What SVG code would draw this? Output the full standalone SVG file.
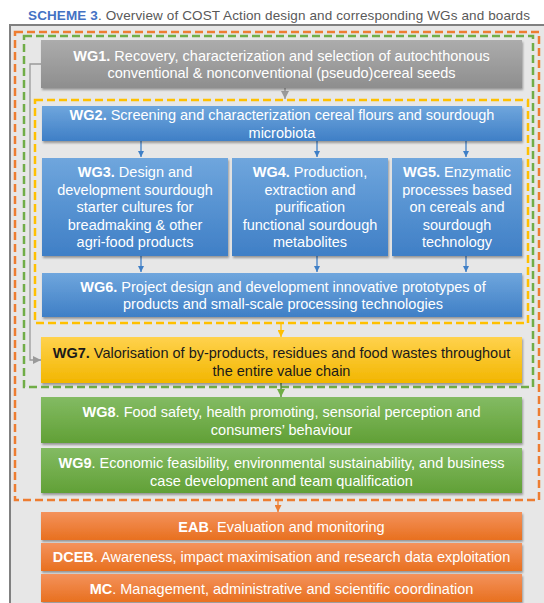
<svg xmlns="http://www.w3.org/2000/svg" width="544" height="603" viewBox="0 0 544 603">
<defs>
<style>
.t{font-family:"Liberation Sans",Arial,sans-serif;font-size:14.5px;fill:#ffffff;text-anchor:middle}
.k{fill:#1a1a1a}
.b{font-weight:bold}
.dash{fill:none;stroke-width:2.5;stroke-dasharray:8 4}
.c{fill:none;stroke-width:1.3}
</style>
<linearGradient id="gGray" x1="0" y1="0" x2="0" y2="1"><stop offset="0" stop-color="#acacac"/><stop offset="1" stop-color="#8e8e8e"/></linearGradient>
<linearGradient id="gBlue" x1="0" y1="0" x2="0" y2="1"><stop offset="0" stop-color="#6fa6dd"/><stop offset="1" stop-color="#3f7fc6"/></linearGradient>
<linearGradient id="gGold" x1="0" y1="0" x2="0" y2="1"><stop offset="0" stop-color="#ffd24d"/><stop offset="1" stop-color="#f2b600"/></linearGradient>
<linearGradient id="gGreen" x1="0" y1="0" x2="0" y2="1"><stop offset="0" stop-color="#83bb63"/><stop offset="1" stop-color="#61a036"/></linearGradient>
<linearGradient id="gOrange" x1="0" y1="0" x2="0" y2="1"><stop offset="0" stop-color="#f4925c"/><stop offset="1" stop-color="#e8701f"/></linearGradient>
<filter id="sh" x="-5%" y="-20%" width="110%" height="150%"><feDropShadow dx="1" dy="2" stdDeviation="1.3" flood-color="#000" flood-opacity="0.35"/></filter>
<marker id="aBlue" viewBox="0 0 10 10" refX="10" refY="5" markerWidth="6" markerHeight="6" orient="auto" markerUnits="userSpaceOnUse"><path d="M0,0 L10,5 L0,10 z" fill="#3f7fc6"/></marker>
<marker id="aGray" viewBox="0 0 10 10" refX="10" refY="5" markerWidth="8" markerHeight="8" orient="auto" markerUnits="userSpaceOnUse"><path d="M0,0 L10,5 L0,10 z" fill="#9a9a9a"/></marker>
<marker id="aGold" viewBox="0 0 10 10" refX="10" refY="5" markerWidth="7" markerHeight="7" orient="auto" markerUnits="userSpaceOnUse"><path d="M0,0 L10,5 L0,10 z" fill="#ffc000"/></marker>
<marker id="aGreen" viewBox="0 0 10 10" refX="10" refY="5" markerWidth="8" markerHeight="8" orient="auto" markerUnits="userSpaceOnUse"><path d="M0,0 L10,5 L0,10 z" fill="#70ad47"/></marker>
<marker id="aOrange" viewBox="0 0 10 10" refX="10" refY="5" markerWidth="7" markerHeight="7" orient="auto" markerUnits="userSpaceOnUse"><path d="M0,0 L10,5 L0,10 z" fill="#ed7d31"/></marker>
</defs>
<rect width="544" height="603" fill="#ffffff"/>
<text x="28" y="20" font-family="Liberation Sans, Arial, sans-serif" font-size="13.5" fill="#595959" textLength="502" lengthAdjust="spacing"><tspan font-weight="bold" fill="#4472c4">SCHEME 3</tspan>. Overview of COST Action design and corresponding WGs and boards</text>
<rect id="frame" x="10" y="25" width="560" height="600" fill="#e7e7e7" stroke="#808080" stroke-width="2"/>
<g id="groups">
<rect x="15" y="32" width="524" height="468" class="dash" stroke="#ed7d31"/>
<rect x="24" y="36" width="509" height="351" class="dash" stroke="#70ad47"/>
<rect x="35" y="100" width="493" height="223" class="dash" stroke="#ffc000"/>
</g>
<g id="connectors">
<path class="c" stroke="#9a9a9a" d="M41,64 H30 V360 H41" marker-end="url(#aGray)"/>
<path class="c" stroke="#9a9a9a" d="M285,88 V99" marker-end="url(#aGray)"/>
<path class="c" stroke="#3f7fc6" d="M141,141 V157" marker-end="url(#aBlue)"/>
<path class="c" stroke="#3f7fc6" d="M317,141 V157" marker-end="url(#aBlue)"/>
<path class="c" stroke="#3f7fc6" d="M466,141 V157" marker-end="url(#aBlue)"/>
<path class="c" stroke="#3f7fc6" d="M141,256 V272" marker-end="url(#aBlue)"/>
<path class="c" stroke="#3f7fc6" d="M317,256 V272" marker-end="url(#aBlue)"/>
<path class="c" stroke="#3f7fc6" d="M466,256 V272" marker-end="url(#aBlue)"/>
<path class="c" stroke="#ffc000" d="M281,324 V337" marker-end="url(#aGold)"/>
<path class="c" stroke="#4f7f36" d="M281,383 V397" marker-end="url(#aGreen)"/>
<path class="c" stroke="#ed7d31" d="M278,500 V512" marker-end="url(#aOrange)"/>
</g>
<g id="wg1"><rect x="41" y="40" width="481" height="48" fill="url(#gGray)" filter="url(#sh)"/>
<text class="t"><tspan x="281.5" y="61"><tspan class="b">WG1.</tspan> Recovery, characterization and selection of autochthonous</tspan><tspan x="281.5" y="78">conventional &amp; nonconventional (pseudo)cereal seeds</tspan></text></g>
<g id="wg2"><rect x="42" y="106" width="480" height="35" fill="url(#gBlue)" filter="url(#sh)"/>
<text class="t"><tspan x="282" y="120"><tspan class="b">WG2.</tspan> Screening and characterization cereal flours and sourdough</tspan><tspan x="282" y="138">microbiota</tspan></text></g>
<g id="wg3"><rect x="42" y="158" width="186" height="98" fill="url(#gBlue)" filter="url(#sh)"/>
<text class="t"><tspan x="135" y="177"><tspan class="b">WG3.</tspan> Design and</tspan><tspan x="135" y="195">development sourdough</tspan><tspan x="135" y="212">starter cultures for</tspan><tspan x="135" y="230">breadmaking &amp; other</tspan><tspan x="135" y="247">agri-food products</tspan></text></g>
<g id="wg4"><rect x="232" y="158" width="156" height="98" fill="url(#gBlue)" filter="url(#sh)"/>
<text class="t"><tspan x="310" y="177"><tspan class="b">WG4.</tspan> Production,</tspan><tspan x="310" y="195">extraction and</tspan><tspan x="310" y="212">purification</tspan><tspan x="310" y="230">functional sourdough</tspan><tspan x="310" y="247">metabolites</tspan></text></g>
<g id="wg5"><rect x="392" y="158" width="130" height="98" fill="url(#gBlue)" filter="url(#sh)"/>
<text class="t"><tspan x="457" y="177"><tspan class="b">WG5.</tspan> Enzymatic</tspan><tspan x="457" y="195">processes based</tspan><tspan x="457" y="212">on cereals and</tspan><tspan x="457" y="230">sourdough</tspan><tspan x="457" y="247">technology</tspan></text></g>
<g id="wg6"><rect x="42" y="273" width="480" height="44" fill="url(#gBlue)" filter="url(#sh)"/>
<text class="t"><tspan x="283" y="292"><tspan class="b">WG6.</tspan> Project design and development innovative prototypes of</tspan><tspan x="283" y="309">products and small-scale processing technologies</tspan></text></g>
<g id="wg7"><rect x="41" y="337" width="481" height="46" fill="url(#gGold)" filter="url(#sh)"/>
<text class="t k"><tspan x="281.5" y="358"><tspan class="b">WG7.</tspan> Valorisation of by-products, residues and food wastes throughout</tspan><tspan x="281.5" y="376">the entire value chain</tspan></text></g>
<g id="wg8"><rect x="41" y="397" width="481" height="46" fill="url(#gGreen)" filter="url(#sh)"/>
<text class="t"><tspan x="281.5" y="417"><tspan class="b">WG8</tspan>. Food safety, health promoting, sensorial perception and</tspan><tspan x="281.5" y="435">consumers’ behaviour</tspan></text></g>
<g id="wg9"><rect x="41" y="448" width="481" height="45" fill="url(#gGreen)" filter="url(#sh)"/>
<text class="t"><tspan x="281.5" y="468"><tspan class="b">WG9</tspan>. Economic feasibility, environmental sustainability, and business</tspan><tspan x="281.5" y="486">case development and team qualification</tspan></text></g>
<g id="eab"><rect x="41" y="512" width="481" height="28" fill="url(#gOrange)" filter="url(#sh)"/>
<text class="t"><tspan x="281.5" y="532"><tspan class="b">EAB</tspan>. Evaluation and monitoring</tspan></text></g>
<g id="dceb"><rect x="41" y="543" width="481" height="28" fill="url(#gOrange)" filter="url(#sh)"/>
<text class="t"><tspan x="281.5" y="562"><tspan class="b">DCEB</tspan>. Awareness, impact maximisation  and research data exploitation</tspan></text></g>
<g id="mc"><rect x="41" y="574" width="481" height="28" fill="url(#gOrange)" filter="url(#sh)"/>
<text class="t"><tspan x="281.5" y="594"><tspan class="b">MC</tspan>. Management, administrative and scientific coordination</tspan></text></g>
</svg>
